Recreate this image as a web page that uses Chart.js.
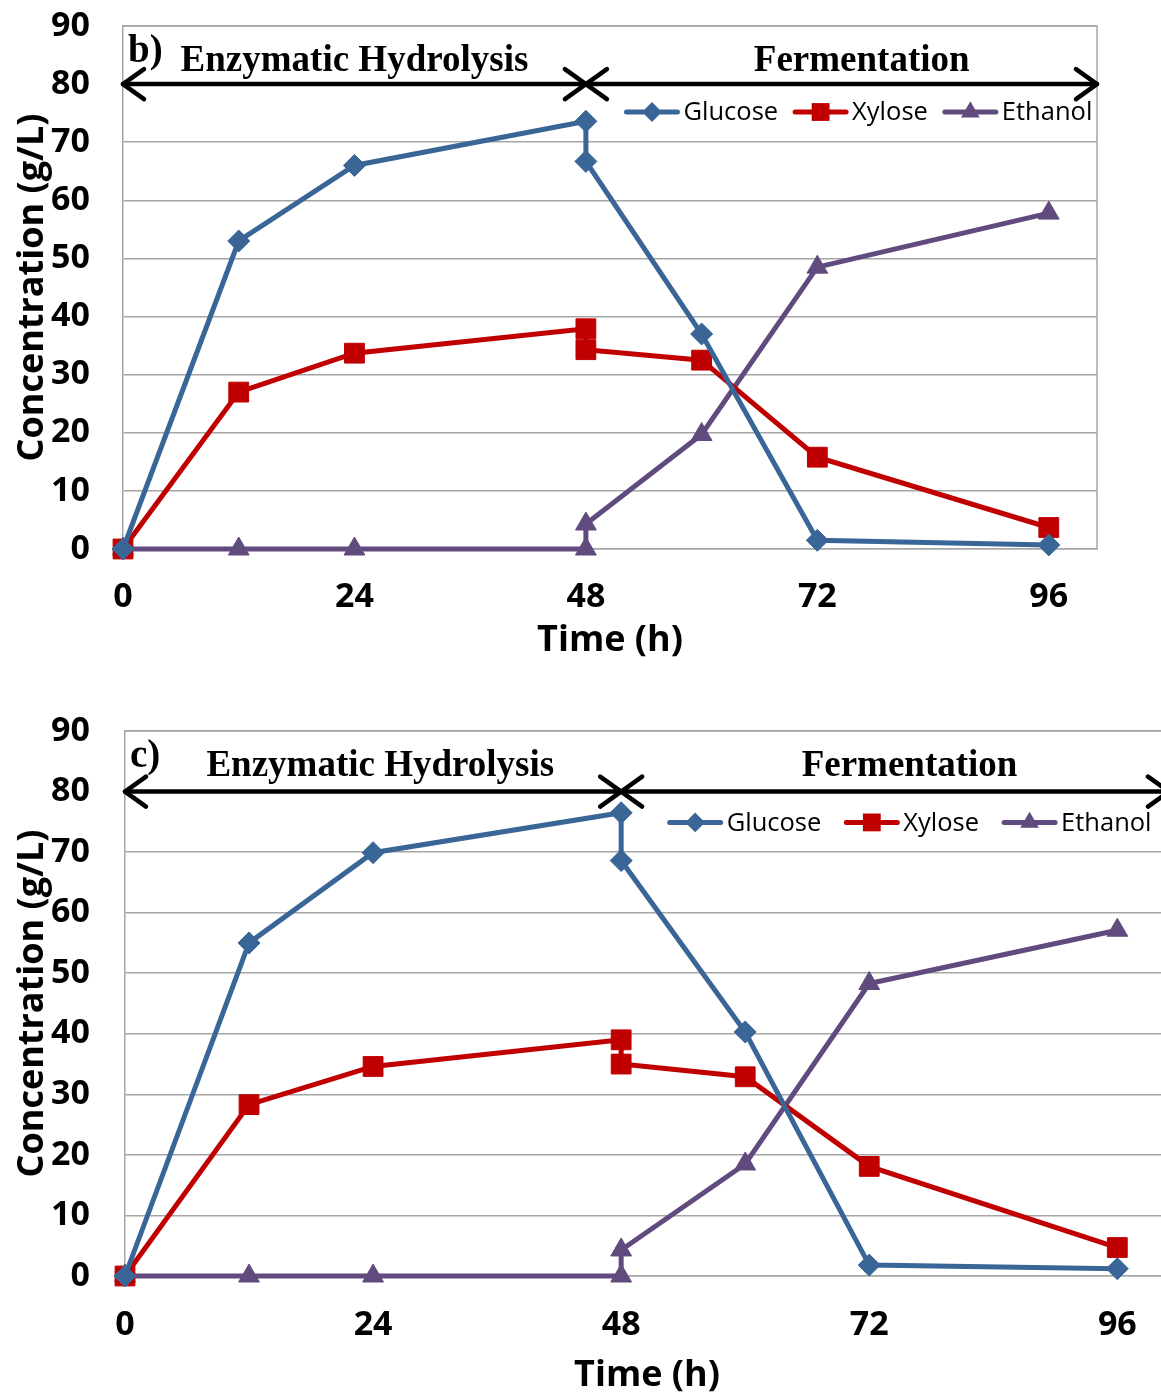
<!DOCTYPE html>
<html>
<head>
<meta charset="utf-8">
<script src="https://cdn.jsdelivr.net/npm/chart.js@4/dist/chart.umd.min.js"></script>
<style>
    html, body { margin: 0; padding: 0; background: #fff; overflow: hidden; }
    .panel { position: absolute; left: 0; width: 1161px; overflow: hidden; }
    canvas { display: block; }
</style>
</head>
<body>
<div class="panel" style="top:0;height:690px"><canvas id="chartB" width="1161" height="690"></canvas></div>
<div class="panel" style="top:690px;height:707px"><canvas id="chartC" width="1172" height="707"></canvas></div>
<script>
// sampling times (h) - the 48 h point appears twice (before / after inoculation)
const timeH = [0, 12, 24, 48, 48, 60, 72, 96];

// panel b)
const glucoseB = [0, 53, 66, 73.6, 66.7, 37, 1.5, 0.7];
const xyloseB  = [0, 27, 33.7, 37.9, 34.3, 32.5, 15.8, 3.7];
const ethanolB = [0, 0, 0, 0, 4.3, 19.7, 48.5, 57.8];

// panel c)
const glucoseC = [0, 55, 69.9, 76.5, 68.6, 40.3, 1.8, 1.2];
const xyloseC  = [0, 28.3, 34.6, 39, 35, 32.9, 18.1, 4.7];
const ethanolC = [0, 0, 0, 0, 4.3, 18.5, 48.3, 57.1];

const seriesNames = ['Glucose', 'Xylose', 'Ethanol'];
const xTicks = [0, 24, 48, 72, 96];
const yTicks = [0, 10, 20, 30, 40, 50, 60, 70, 80, 90];
const phaseNames = ['Enzymatic Hydrolysis', 'Fermentation'];
const phaseStart = [0, 48];
const phaseEnd = [48, 101];

const colors = ['#3a6597', '#c00000', '#614a7d'];
const markers = ['rectRot', 'rect', 'triangle'];
const markerR = [11, 14, 12];
const gridColor = '#a6a6a6';
const sans = "'Open Sans', sans-serif";
const serif = "'Liberation Serif', 'Times New Roman', serif";

function drawMarker(ctx, style, x, y, r, color) {
    ctx.fillStyle = color;
    ctx.beginPath();
    if (style === 'rectRot') {
        ctx.moveTo(x, y - r); ctx.lineTo(x + r, y); ctx.lineTo(x, y + r); ctx.lineTo(x - r, y);
    } else if (style === 'rect') {
        const s = r * Math.SQRT1_2;
        ctx.rect(x - s, y - s, 2 * s, 2 * s);
    } else {
        ctx.moveTo(x, y - r); ctx.lineTo(x + r * 0.866, y + r / 2); ctx.lineTo(x - r * 0.866, y + r / 2);
    }
    ctx.closePath();
    ctx.fill();
}

function arrowHead(ctx, tipX, y, dir) {
    ctx.beginPath();
    ctx.moveTo(tipX + dir * 21, y - 15);
    ctx.lineTo(tipX, y);
    ctx.lineTo(tipX + dir * 21, y + 15);
    ctx.stroke();
}

const overlayPlugin = {
    id: 'overlay',
    afterDatasetsDraw(chart, args, o) {
        const { ctx, chartArea: a, scales: { x, y } } = chart;
        ctx.save();
        // top / right frame
        ctx.strokeStyle = gridColor; ctx.lineWidth = 1.5;
        ctx.beginPath();
        ctx.moveTo(a.left, a.top); ctx.lineTo(a.right, a.top); ctx.lineTo(a.right, a.bottom);
        ctx.stroke();

        // phase arrows + labels
        const ay = y.getPixelForValue(80);
        ctx.strokeStyle = '#000'; ctx.lineWidth = 4.5; ctx.lineCap = 'round'; ctx.lineJoin = 'round';
        ctx.fillStyle = '#000';
        ctx.font = 'bold 37px ' + serif;
        ctx.textAlign = 'center'; ctx.textBaseline = 'alphabetic';
        phaseNames.forEach((name, i) => {
            const x1 = x.getPixelForValue(phaseStart[i]);
            const x2 = Math.min(x.getPixelForValue(phaseEnd[i]), a.right);
            ctx.beginPath(); ctx.moveTo(x1, ay); ctx.lineTo(x2, ay); ctx.stroke();
            arrowHead(ctx, x1, ay, 1);
            arrowHead(ctx, x2, ay, -1);
            ctx.fillText(name, x.getPixelForValue(o.textX[i]), y.getPixelForValue(o.textY));
        });
        ctx.textAlign = 'left';
        ctx.font = 'bold 39px ' + serif;
        ctx.fillText(o.panel, a.left + 5, y.getPixelForValue(o.panelY));

        // legend inside the plot
        let lx = x.getPixelForValue(o.legendX);
        const ly = y.getPixelForValue(o.legendY);
        ctx.font = '25.5px ' + sans;
        ctx.textBaseline = 'middle';
        chart.data.datasets.forEach((ds, i) => {
            ctx.strokeStyle = ds.borderColor; ctx.lineWidth = 5; ctx.lineCap = 'round';
            ctx.beginPath(); ctx.moveTo(lx + 2, ly); ctx.lineTo(lx + 53, ly); ctx.stroke();
            drawMarker(ctx, markers[i], lx + 27.5, ly, markerR[i] * 0.9, ds.borderColor);
            ctx.fillStyle = '#000';
            ctx.fillText(ds.label, lx + 59, ly + 1);
            lx += 59 + ctx.measureText(ds.label).width + o.legendGap;
        });
        ctx.restore();
    }
};

function buildChart(id, series, cfg) {
    return new Chart(document.getElementById(id), {
        type: 'line',
        data: {
            datasets: series.map((vals, i) => ({
                label: seriesNames[i],
                data: timeH.map((t, k) => ({ x: t, y: vals[k] })),
                borderColor: colors[i],
                backgroundColor: colors[i],
                borderWidth: 5,
                pointStyle: markers[i],
                pointRadius: markerR[i],
                pointBorderWidth: 1,
                pointHoverRadius: markerR[i],
                tension: 0,
                clip: false
            }))
        },
        options: {
            responsive: false,
            animation: false,
            devicePixelRatio: 1,
            layout: { autoPadding: false, padding: { top: cfg.top, right: cfg.right, left: 0, bottom: 0 } },
            plugins: {
                legend: { display: false },
                tooltip: { enabled: false },
                overlay: cfg.overlay
            },
            scales: {
                x: {
                    type: 'linear', min: 0, max: 101,
                    afterBuildTicks: s => { s.ticks = xTicks.map(v => ({ value: v })); },
                    afterFit: s => { s.height = cfg.xAxisH; s.paddingLeft = 0; s.paddingRight = 0; },
                    grid: { display: false, drawTicks: false },
                    border: { display: true, color: gridColor, width: 1.5 },
                    ticks: { padding: cfg.xTickPad, color: '#000', font: { family: sans, size: 34, weight: 'bold' } },
                    title: {
                        display: true, text: 'Time (h)', color: '#000',
                        font: { family: sans, size: 36, weight: 'bold' },
                        padding: { top: 0, bottom: cfg.xTitlePad }
                    }
                },
                y: {
                    min: 0, max: 90,
                    afterBuildTicks: s => { s.ticks = yTicks.map(v => ({ value: v })); },
                    afterFit: s => { s.width = cfg.yAxisW; s.paddingTop = 0; s.paddingBottom = 0; },
                    grid: { color: gridColor, lineWidth: 1.5, drawTicks: false },
                    border: { display: true, color: gridColor, width: 1.5 },
                    ticks: { padding: cfg.yTickPad, color: '#000', font: { family: sans, size: 34, weight: 'bold' } },
                    title: {
                        display: true, text: 'Concentration (g/L)', color: '#000',
                        font: { family: sans, size: 36, weight: 'bold' },
                        padding: { top: 11, bottom: 0 }
                    }
                }
            }
        },
        plugins: [overlayPlugin]
    });
}

buildChart('chartB', [glucoseB, xyloseB, ethanolB], {
    top: 26, right: 64, yAxisW: 123, xAxisH: 141, xTickPad: 28, xTitlePad: 28, yTickPad: 33,
    overlay: { panel: 'b)', panelY: 83.8, textX: [24, 76.6], textY: 82.3, legendX: 52, legendY: 75.2, legendGap: 15 }
});

buildChart('chartC', [glucoseC, xyloseC, ethanolC], {
    top: 41, right: 3, yAxisW: 125, xAxisH: 121, xTickPad: 29, xTitlePad: 0, yTickPad: 35,
    overlay: { panel: 'c)', panelY: 84, textX: [24.7, 75.9], textY: 82.5, legendX: 52.5, legendY: 74.9, legendGap: 23 }
});
</script>
</body>
</html>
